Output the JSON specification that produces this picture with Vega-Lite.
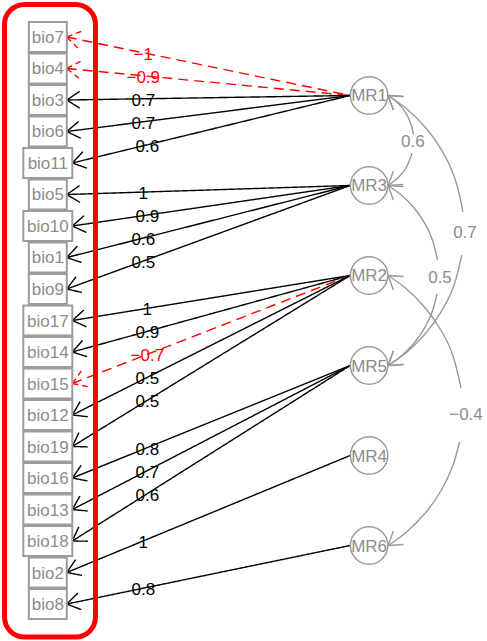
{
  "$schema": "https://vega.github.io/schema/vega-lite/v6.json",
  "width": 487,
  "height": 641,
  "autosize": {"type": "fit", "contains": "padding"},
  "padding": 0,
  "background": "white",
  "config": {
    "view": {"stroke": null},
    "text": {"font": "Liberation Sans", "fontSize": 17}
  },
  "datasets": {
    "vars": [
      {"name": "bio7", "x": 1, "y": 1},
      {"name": "bio4", "x": 1, "y": 2},
      {"name": "bio3", "x": 1, "y": 3},
      {"name": "bio6", "x": 1, "y": 4},
      {"name": "bio11", "x": 1, "y": 5},
      {"name": "bio5", "x": 1, "y": 6},
      {"name": "bio10", "x": 1, "y": 7},
      {"name": "bio1", "x": 1, "y": 8},
      {"name": "bio9", "x": 1, "y": 9},
      {"name": "bio17", "x": 1, "y": 10},
      {"name": "bio14", "x": 1, "y": 11},
      {"name": "bio15", "x": 1, "y": 12},
      {"name": "bio12", "x": 1, "y": 13},
      {"name": "bio19", "x": 1, "y": 14},
      {"name": "bio16", "x": 1, "y": 15},
      {"name": "bio13", "x": 1, "y": 16},
      {"name": "bio18", "x": 1, "y": 17},
      {"name": "bio2", "x": 1, "y": 18},
      {"name": "bio8", "x": 1, "y": 19}
    ],
    "factors": [
      {"name": "MR1", "x": 11.2, "y": 2.857},
      {"name": "MR3", "x": 11.2, "y": 5.714},
      {"name": "MR2", "x": 11.2, "y": 8.571},
      {"name": "MR5", "x": 11.2, "y": 11.429},
      {"name": "MR4", "x": 11.2, "y": 14.286},
      {"name": "MR6", "x": 11.2, "y": 17.143}
    ],
    "loadings": [
      {"factor": "MR1", "variable": "bio7", "loading": -1},
      {"factor": "MR1", "variable": "bio4", "loading": -0.9},
      {"factor": "MR1", "variable": "bio3", "loading": 0.7},
      {"factor": "MR1", "variable": "bio6", "loading": 0.7},
      {"factor": "MR1", "variable": "bio11", "loading": 0.6},
      {"factor": "MR3", "variable": "bio5", "loading": 1},
      {"factor": "MR3", "variable": "bio10", "loading": 0.9},
      {"factor": "MR3", "variable": "bio1", "loading": 0.6},
      {"factor": "MR3", "variable": "bio9", "loading": 0.5},
      {"factor": "MR2", "variable": "bio17", "loading": 1},
      {"factor": "MR2", "variable": "bio14", "loading": 0.9},
      {"factor": "MR2", "variable": "bio15", "loading": -0.7},
      {"factor": "MR2", "variable": "bio12", "loading": 0.5},
      {"factor": "MR2", "variable": "bio19", "loading": 0.5},
      {"factor": "MR5", "variable": "bio16", "loading": 0.8},
      {"factor": "MR5", "variable": "bio13", "loading": 0.7},
      {"factor": "MR5", "variable": "bio18", "loading": 0.6},
      {"factor": "MR4", "variable": "bio2", "loading": 1},
      {"factor": "MR6", "variable": "bio8", "loading": 0.8}
    ],
    "curves": [
      {"seg": "MR1-MR3 a", "i": 0, "x": 11.803, "y": 2.857},
      {"seg": "MR1-MR3 a", "i": 1, "x": 12.126, "y": 3.11},
      {"seg": "MR1-MR3 a", "i": 2, "x": 12.391, "y": 3.454},
      {"seg": "MR1-MR3 a", "i": 3, "x": 12.557, "y": 3.855},
      {"seg": "MR1-MR3 a", "i": 4, "x": 12.603, "y": 4.101},
      {"seg": "MR1-MR3 b", "i": 0, "x": 12.566, "y": 4.683},
      {"seg": "MR1-MR3 b", "i": 1, "x": 12.391, "y": 5.118},
      {"seg": "MR1-MR3 b", "i": 2, "x": 12.126, "y": 5.462},
      {"seg": "MR1-MR3 b", "i": 3, "x": 11.803, "y": 5.714},
      {"seg": "MR1-MR5 a", "i": 0, "x": 11.803, "y": 2.857},
      {"seg": "MR1-MR5 a", "i": 1, "x": 12.406, "y": 3.291},
      {"seg": "MR1-MR5 a", "i": 2, "x": 13.026, "y": 3.911},
      {"seg": "MR1-MR5 a", "i": 3, "x": 13.528, "y": 4.629},
      {"seg": "MR1-MR5 a", "i": 4, "x": 13.9, "y": 5.423},
      {"seg": "MR1-MR5 a", "i": 5, "x": 14.126, "y": 6.27},
      {"seg": "MR1-MR5 a", "i": 6, "x": 14.168, "y": 6.556},
      {"seg": "MR1-MR5 b", "i": 0, "x": 14.142, "y": 7.921},
      {"seg": "MR1-MR5 b", "i": 1, "x": 13.9, "y": 8.863},
      {"seg": "MR1-MR5 b", "i": 2, "x": 13.528, "y": 9.657},
      {"seg": "MR1-MR5 b", "i": 3, "x": 13.026, "y": 10.375},
      {"seg": "MR1-MR5 b", "i": 4, "x": 12.406, "y": 10.995},
      {"seg": "MR1-MR5 b", "i": 5, "x": 11.803, "y": 11.429},
      {"seg": "MR3-MR5 a", "i": 0, "x": 11.803, "y": 5.714},
      {"seg": "MR3-MR5 a", "i": 1, "x": 12.213, "y": 6.009},
      {"seg": "MR3-MR5 a", "i": 2, "x": 12.625, "y": 6.421},
      {"seg": "MR3-MR5 a", "i": 3, "x": 12.96, "y": 6.899},
      {"seg": "MR3-MR5 a", "i": 4, "x": 13.206, "y": 7.427},
      {"seg": "MR3-MR5 a", "i": 5, "x": 13.371, "y": 8.079},
      {"seg": "MR3-MR5 b", "i": 0, "x": 13.356, "y": 9.159},
      {"seg": "MR3-MR5 b", "i": 1, "x": 13.206, "y": 9.715},
      {"seg": "MR3-MR5 b", "i": 2, "x": 12.96, "y": 10.244},
      {"seg": "MR3-MR5 b", "i": 3, "x": 12.625, "y": 10.721},
      {"seg": "MR3-MR5 b", "i": 4, "x": 12.213, "y": 11.133},
      {"seg": "MR3-MR5 b", "i": 5, "x": 11.803, "y": 11.429},
      {"seg": "MR2-MR6 a", "i": 0, "x": 11.803, "y": 8.571},
      {"seg": "MR2-MR6 a", "i": 1, "x": 12.361, "y": 8.978},
      {"seg": "MR2-MR6 a", "i": 2, "x": 12.985, "y": 9.602},
      {"seg": "MR2-MR6 a", "i": 3, "x": 13.492, "y": 10.325},
      {"seg": "MR2-MR6 a", "i": 4, "x": 13.865, "y": 11.125},
      {"seg": "MR2-MR6 a", "i": 5, "x": 14.119, "y": 12.143},
      {"seg": "MR2-MR6 b", "i": 0, "x": 14.07, "y": 13.857},
      {"seg": "MR2-MR6 b", "i": 1, "x": 13.865, "y": 14.589},
      {"seg": "MR2-MR6 b", "i": 2, "x": 13.492, "y": 15.389},
      {"seg": "MR2-MR6 b", "i": 3, "x": 12.985, "y": 16.112},
      {"seg": "MR2-MR6 b", "i": 4, "x": 12.361, "y": 16.736},
      {"seg": "MR2-MR6 b", "i": 5, "x": 11.803, "y": 17.143}
    ],
    "curveEnds": [
      {"factor": "MR1", "end": "start"},
      {"factor": "MR3", "end": "end"},
      {"factor": "MR1", "end": "start"},
      {"factor": "MR5", "end": "end"},
      {"factor": "MR3", "end": "start"},
      {"factor": "MR5", "end": "end"},
      {"factor": "MR2", "end": "start"},
      {"factor": "MR6", "end": "end"}
    ],
    "correlations": [
      {"pair": "MR1-MR3", "r": 0.6, "x": 12.59, "y": 4.33},
      {"pair": "MR1-MR5", "r": 0.7, "x": 14.244, "y": 7.222},
      {"pair": "MR3-MR5", "r": 0.5, "x": 13.451, "y": 8.651},
      {"pair": "MR2-MR6", "r": -0.4, "x": 14.276, "y": 13.0}
    ]
  },
  "layer": [
    {
      "data": {"name": "curves"},
      "mark": {"type": "line", "interpolate": "natural", "color": "#999999", "strokeWidth": 1.4},
      "encoding": {
        "x": {"field": "x", "type": "quantitative", "axis": null, "scale": {"domain": [-0.5175, 14.943], "nice": false, "zero": false}},
        "y": {"field": "y", "type": "quantitative", "axis": null, "scale": {"domain": [-0.1746, 20.1746], "reverse": true, "nice": false, "zero": false}},
        "detail": {"field": "seg", "type": "nominal"},
        "order": {"field": "i", "type": "quantitative"}
      }
    },
    {
      "data": {"name": "curveEnds"},
      "transform": [
        {"lookup": "factor", "from": {"data": {"name": "factors"}, "key": "name", "fields": ["x", "y"]}, "as": ["fx", "fy"]},
        {"calculate": "datum.fx + 0.603", "as": "tipx"},
        {"calculate": "datum.end == 'start' ? 37 : -37", "as": "ang"}
      ],
      "mark": {"type": "point", "shape": "M0,0L1,-0.65M0,0L1,0.65", "filled": false, "size": 676, "strokeWidth": 1.4, "opacity": 1, "color": "#999999"},
      "encoding": {
        "x": {"field": "tipx", "type": "quantitative", "axis": null, "scale": {"domain": [-0.5175, 14.943], "nice": false, "zero": false}},
        "y": {"field": "fy", "type": "quantitative", "axis": null, "scale": {"domain": [-0.1746, 20.1746], "reverse": true, "nice": false, "zero": false}},
        "angle": {"field": "ang", "type": "quantitative", "scale": null}
      }
    },
    {
      "data": {"name": "correlations"},
      "mark": {"type": "text", "align": "center", "baseline": "middle", "color": "#8c8c8c"},
      "encoding": {
        "x": {"field": "x", "type": "quantitative", "axis": null, "scale": {"domain": [-0.5175, 14.943], "nice": false, "zero": false}},
        "y": {"field": "y", "type": "quantitative", "axis": null, "scale": {"domain": [-0.1746, 20.1746], "reverse": true, "nice": false, "zero": false}},
        "text": {"field": "r", "type": "quantitative", "format": ".1~f"}
      }
    },
    {
      "data": {"name": "loadings"},
      "transform": [
        {"lookup": "variable", "from": {"data": {"name": "vars"}, "key": "name", "fields": ["x", "y"]}, "as": ["vx", "vy"]},
        {"lookup": "factor", "from": {"data": {"name": "factors"}, "key": "name", "fields": ["x", "y"]}, "as": ["fx", "fy"]},
        {"calculate": "datum.vx + 0.175 * length(datum.variable) - 0.097", "as": "tipx"},
        {"calculate": "datum.fx - 0.603", "as": "sx"},
        {"calculate": "datum.tipx + 0.27 * (datum.sx - datum.tipx)", "as": "lx"},
        {"calculate": "datum.vy + 0.27 * (datum.fy - datum.vy)", "as": "ly"},
        {"calculate": "atan2(datum.fy - datum.vy, datum.sx - datum.tipx) * 180 / PI", "as": "ang"}
      ],
      "layer": [
        {
          "mark": {"type": "rule", "strokeWidth": 1.4},
          "encoding": {
            "x": {"field": "tipx", "type": "quantitative", "axis": null, "scale": {"domain": [-0.5175, 14.943], "nice": false, "zero": false}},
            "y": {"field": "vy", "type": "quantitative", "axis": null, "scale": {"domain": [-0.1746, 20.1746], "reverse": true, "nice": false, "zero": false}},
            "x2": {"field": "sx"},
            "y2": {"field": "fy"},
            "color": {"condition": {"test": "datum.loading < 0", "value": "#ff0000"}, "value": "#000000"},
            "strokeDash": {"condition": {"test": "datum.loading < 0", "value": [10, 6]}, "value": [1, 0]}
          }
        },
        {
          "mark": {"type": "point", "shape": "M0,0L1,-0.65M0,0L1,0.65", "filled": false, "size": 676, "strokeWidth": 1.4, "opacity": 1},
          "encoding": {
            "x": {"field": "tipx", "type": "quantitative", "axis": null, "scale": {"domain": [-0.5175, 14.943], "nice": false, "zero": false}},
            "y": {"field": "vy", "type": "quantitative", "axis": null, "scale": {"domain": [-0.1746, 20.1746], "reverse": true, "nice": false, "zero": false}},
            "angle": {"field": "ang", "type": "quantitative", "scale": null},
            "color": {"condition": {"test": "datum.loading < 0", "value": "#ff0000"}, "value": "#000000"},
            "strokeDash": {"condition": {"test": "datum.loading < 0", "value": [6, 4]}, "value": [1, 0]}
          }
        },
        {
          "mark": {"type": "text", "align": "center", "baseline": "middle", "dy": 2},
          "encoding": {
            "x": {"field": "lx", "type": "quantitative", "axis": null, "scale": {"domain": [-0.5175, 14.943], "nice": false, "zero": false}},
            "y": {"field": "ly", "type": "quantitative", "axis": null, "scale": {"domain": [-0.1746, 20.1746], "reverse": true, "nice": false, "zero": false}},
            "text": {"field": "loading", "type": "quantitative", "format": ".1~f"},
            "color": {"condition": {"test": "datum.loading < 0", "value": "#ff0000"}, "value": "#000000"}
          }
        }
      ]
    },
    {
      "data": {"name": "vars"},
      "transform": [
        {"calculate": "0.175 * length(datum.name) - 0.097", "as": "hw"},
        {"calculate": "datum.x - datum.hw", "as": "x1"},
        {"calculate": "datum.x + datum.hw", "as": "x2"},
        {"calculate": "datum.y - 0.476", "as": "y1"},
        {"calculate": "datum.y + 0.476", "as": "y2"}
      ],
      "layer": [
        {
          "mark": {"type": "rect", "fill": "white", "stroke": "#9c9c9c", "strokeWidth": 2},
          "encoding": {
            "x": {"field": "x1", "type": "quantitative", "axis": null, "scale": {"domain": [-0.5175, 14.943], "nice": false, "zero": false}},
            "x2": {"field": "x2"},
            "y": {"field": "y1", "type": "quantitative", "axis": null, "scale": {"domain": [-0.1746, 20.1746], "reverse": true, "nice": false, "zero": false}},
            "y2": {"field": "y2"}
          }
        },
        {
          "mark": {"type": "text", "align": "center", "baseline": "middle", "color": "#8c8c8c", "dy": 1},
          "encoding": {
            "x": {"field": "x", "type": "quantitative", "axis": null, "scale": {"domain": [-0.5175, 14.943], "nice": false, "zero": false}},
            "y": {"field": "y", "type": "quantitative", "axis": null, "scale": {"domain": [-0.1746, 20.1746], "reverse": true, "nice": false, "zero": false}},
            "text": {"field": "name", "type": "nominal"}
          }
        }
      ]
    },
    {
      "data": {"name": "factors"},
      "layer": [
        {
          "mark": {"type": "point", "shape": "circle", "size": 1400, "fill": "white", "filled": true, "stroke": "#9c9c9c", "strokeWidth": 1.5, "opacity": 1},
          "encoding": {
            "x": {"field": "x", "type": "quantitative", "axis": null, "scale": {"domain": [-0.5175, 14.943], "nice": false, "zero": false}},
            "y": {"field": "y", "type": "quantitative", "axis": null, "scale": {"domain": [-0.1746, 20.1746], "reverse": true, "nice": false, "zero": false}}
          }
        },
        {
          "mark": {"type": "text", "align": "center", "baseline": "middle", "color": "#8c8c8c", "dy": 1},
          "encoding": {
            "x": {"field": "x", "type": "quantitative", "axis": null, "scale": {"domain": [-0.5175, 14.943], "nice": false, "zero": false}},
            "y": {"field": "y", "type": "quantitative", "axis": null, "scale": {"domain": [-0.1746, 20.1746], "reverse": true, "nice": false, "zero": false}},
            "text": {"field": "name", "type": "nominal"}
          }
        }
      ]
    },
    {
      "data": {"values": [{"group": "variables"}]},
      "mark": {"type": "rect", "fill": null, "fillOpacity": 0, "stroke": "#ff0000", "strokeWidth": 5, "cornerRadius": 20},
      "encoding": {
        "x": {"datum": -0.375, "type": "quantitative", "axis": null, "scale": {"domain": [-0.5175, 14.943], "nice": false, "zero": false}},
        "x2": {"datum": 2.514},
        "y": {"datum": -0.032, "type": "quantitative", "axis": null, "scale": {"domain": [-0.1746, 20.1746], "reverse": true, "nice": false, "zero": false}},
        "y2": {"datum": 20.048}
      }
    }
  ]
}
